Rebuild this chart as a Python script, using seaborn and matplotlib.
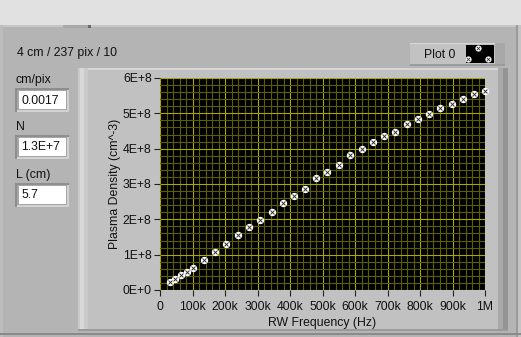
import numpy as np
import pandas as pd
import matplotlib
matplotlib.use("Agg")
import matplotlib.pyplot as plt
import seaborn as sns
from matplotlib.patches import Rectangle
from matplotlib import font_manager as fm

# ---------------- data ----------------
freq_khz = [31, 47, 66, 82, 100, 134, 168, 204, 239, 273, 307, 344, 378, 412, 446,
            480, 514, 552, 585, 620, 654, 688, 722, 759, 793, 827, 861, 898, 932, 966, 1000]
density_e8 = [0.23, 0.31, 0.43, 0.51, 0.62, 0.85, 1.08, 1.31, 1.56, 1.79, 1.99, 2.22, 2.47, 2.67, 2.85,
              3.16, 3.35, 3.55, 3.81, 3.98, 4.18, 4.35, 4.46, 4.69, 4.83, 4.98, 5.15, 5.26, 5.40, 5.54, 5.63]
x_tick_vals = [0, 100e3, 200e3, 300e3, 400e3, 500e3, 600e3, 700e3, 800e3, 900e3, 1e6]
x_tick_labels = ["0", "100k", "200k", "300k", "400k", "500k", "600k", "700k", "800k", "900k", "1M"]
y_tick_vals = [0, 1e8, 2e8, 3e8, 4e8, 5e8, 6e8]
y_tick_labels = ["0E+0", "1E+8", "2E+8", "3E+8", "4E+8", "5E+8", "6E+8"]
control_labels = ["cm/pix", "N", "L (cm)"]
control_values = ["0.0017", "1.3E+7", "5.7"]
header_text = "4 cm / 237 pix / 10"
legend_label = "Plot 0"

df = pd.DataFrame({"freq": np.array(freq_khz) * 1e3,
                   "density": np.array(density_e8) * 1e8})

# ---------------- style ----------------
sns.set_style("dark")
avail = {f.name for f in fm.fontManager.ttflist}
fam = "Liberation Sans Narrow" if "Liberation Sans Narrow" in avail else "Liberation Sans"
FS = 9.6 if fam == "Liberation Sans Narrow" else 8.8
plt.rcParams["font.family"] = [fam, "DejaVu Sans"]

W, H = 521, 337
fig = plt.figure(figsize=(W / 100, H / 100), dpi=100)
fig.patch.set_facecolor("#e1e1e1")


def rect(x0, y0, x1, y1, color, z=-10):
    fig.patches.append(Rectangle((x0 / W, 1 - y1 / H), (x1 - x0) / W, (y1 - y0) / H,
                                 transform=fig.transFigure, facecolor=color,
                                 edgecolor="none", zorder=z))


def ftext(x, y, s, **kw):
    fig.text(x / W, 1 - y / H, s, **kw)


# outer panel
rect(0, 25, W, H, "#b4b4b4")
rect(0, 25, W, 27, "#c6c6c6")
rect(0, 25, 3, H, "#bcbcbc")
rect(516, 25, W, H, "#9a9a9a")
rect(518, 25, W, H, "#c4c4c4")
rect(0, 333, W, 335, "#8a8a8a")
rect(63, 25, 91, 28, "#a8a8a8")
rect(88, 25, 91, 28, "#6a6a6a")

# graph frame
rect(78, 68, 508, 331, "#c1c1c1")
rect(78, 68, 508, 70, "#d6d6d6")
rect(78, 68, 88, 331, "#cacaca")
rect(80, 68, 84, 331, "#d8d8d8")
rect(498, 68, 508, 331, "#a9a9a9")
rect(503, 68, 508, 331, "#949494")
rect(78, 329, 508, 331, "#9a9a9a")

# header text
ftext(17, 53, header_text, fontsize=FS, va="center", ha="left", color="#111111")

# numeric controls
label_y = [80, 127, 175]
box_y = [88, 135, 183]
for lab, val, ly, by in zip(control_labels, control_values, label_y, box_y):
    ftext(16, ly, lab, fontsize=FS, va="center", ha="left", color="#111111")
    rect(15, by, 69, by + 24, "#8e8e8e")
    rect(17, by + 2, 69, by + 24, "#d2d2d2")
    rect(17, by + 2, 67, by + 22, "#a6a6a6")
    rect(19, by + 3, 66, by + 21, "#ffffff")
    ftext(21, by + 12.5, val, fontsize=FS, va="center", ha="left", color="#111111")

# legend box
rect(410, 43, 505, 66, "#c2c2c2")
rect(410, 43, 505, 44, "#d8d8d8")
rect(495, 43, 505, 66, "#a8a8a8")
rect(410, 64, 505, 66, "#9c9c9c")
ftext(440, 54.5, legend_label, fontsize=FS, va="center", ha="center", color="#111111")
lax = fig.add_axes([466 / W, 1 - 63 / H, 28 / W, 18 / H])
lax.set_facecolor("black")
lax.set_xlim(0, 28)
lax.set_ylim(18, 0)
lax.set_xticks([]); lax.set_yticks([])
for s in lax.spines.values():
    s.set_visible(False)
icon = pd.DataFrame({"x": [12, 1.5, 22], "y": [3, 14, 14]})
sns.scatterplot(data=icon, x="x", y="y", ax=lax, marker="o", s=20, color="white",
                linewidth=0, legend=False)
sns.scatterplot(data=icon, x="x", y="y", ax=lax, marker="x", s=6, color="#333333",
                linewidth=0.6, legend=False)

# ---------------- main plot ----------------
ax = fig.add_axes([160 / W, 1 - 290 / H, 325 / W, 212 / H])
ax.set_facecolor("black")
ax.set_xlim(0, 1e6)
ax.set_ylim(0, 6e8)
ax.set_xticks(x_tick_vals)
ax.set_xticklabels(x_tick_labels)
ax.set_yticks(y_tick_vals)
ax.set_yticklabels(y_tick_labels)
ax.set_xticks(np.arange(0, 1e6 + 1, 20e3), minor=True)
ax.set_yticks(np.arange(0, 6e8 + 1, 2e7), minor=True)
ax.grid(which="minor", color="#5e5e00", linewidth=0.8, linestyle="-")
ax.grid(which="major", color="#a8a800", linewidth=0.8, linestyle="-")
ax.set_axisbelow(True)
ax.tick_params(which="minor", length=0)
ax.tick_params(which="major", direction="out", length=4.5, width=0.8, color="#222222",
               labelsize=FS, labelcolor="#111111", pad=1.5,
               bottom=True, left=True)
ax.tick_params(axis="x", which="major", pad=3.5)
for s in ax.spines.values():
    s.set_visible(False)

sns.scatterplot(data=df, x="freq", y="density", ax=ax, marker="o", s=28, color="white",
                linewidth=0, legend=False, zorder=3, clip_on=False)
sns.scatterplot(data=df, x="freq", y="density", ax=ax, marker="x", s=8, color="#333333",
                linewidth=0.7, legend=False, zorder=4, clip_on=False)

ax.set_xlabel("RW Frequency (Hz)", fontsize=FS, color="#111111", labelpad=3)
ax.set_ylabel("Plasma Density (cm^-3)", fontsize=FS, color="#111111", labelpad=1)

fig.savefig("out.png", dpi=100, facecolor=fig.get_facecolor())
